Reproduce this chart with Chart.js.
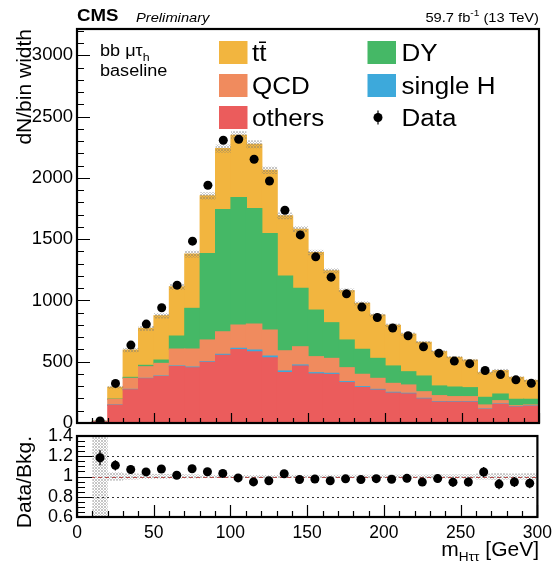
<!DOCTYPE html>
<html>
<head>
<meta charset="utf-8">
<script src="https://cdn.jsdelivr.net/npm/chart.js@4.4.1/dist/chart.umd.min.js"></script>
<style>
  html, body { margin: 0; padding: 0; background: #fff; }
  #wrap { position: relative; width: 558px; height: 568px; }
  #wrap canvas { position: absolute; left: 0; top: 0; }
</style>
</head>
<body>
<div id="wrap">
  <canvas id="main" width="558" height="568"></canvas>
  <canvas id="ratio" width="558" height="568"></canvas>
</div>
<script>
// m_Htautau histogram, 10 GeV bins from 0 to 300 GeV
const binCenters = [5, 15, 25, 35, 45, 55, 65, 75, 85, 95, 105, 115, 125, 135, 145,
                    155, 165, 175, 185, 195, 205, 215, 225, 235, 245, 255, 265, 275, 285, 295];
const binWidth = 10;

// background processes (events per bin), stacked bottom to top
const others  = [0, 10, 145, 271, 361, 379, 460, 451, 494, 552, 599, 581, 532, 412, 464,
                 400, 396, 329, 289, 268, 244, 237, 196, 170, 170, 170, 111, 152, 130, 136];
const singleH = [0, 0, 2, 3, 3, 4, 5, 5, 6, 8, 10, 14, 14, 12, 9,
                 10, 9, 8, 7, 6, 6, 5, 5, 4, 4, 4, 3, 3, 3, 3];
const qcd     = [0, 2.5, 46, 90, 95, 103, 138, 147, 177, 184, 190, 212, 212, 165, 149,
                 131, 122, 114, 101, 90, 73, 68, 54, 49, 41, 41, 33, 27, 8, 8];
const dy      = [0, 0.5, 2, 8, 11, 27, 106, 332, 706, 998, 1041, 943, 788, 609, 476,
                 380, 291, 226, 204, 163, 142, 108, 128, 79, 78, 73, 62, 54, 52, 46];
const ttbar   = [0, 0.5, 96, 223, 302, 362, 402, 443, 470, 497, 508, 524, 516, 492, 483,
                 470, 424, 402, 375, 353, 332, 307, 275, 280, 242, 224, 201, 191, 179, 154];
// total background uncertainty (events per bin)
const bkgUnc  = [0, 7, 12, 18, 20, 22, 25, 28, 30, 33, 33, 33, 30, 27, 25,
                 22, 20, 18, 17, 15, 14, 13, 12, 12, 11, 11, 12, 14, 11, 11];

// observed data
const data    = [null, 16, 323, 636, 807, 940, 1125, 1484, 1940, 2307, 2315, 2152, 1975, 1736, 1535,
                 1356, 1190, 1054, 946, 861, 775, 712, 622, 570, 505, 484, 428, 395, 352, 324];
// statistical uncertainty on the data/background ratio
const ratioErr = [0, 0.075, 0.05, 0.04, 0.035, 0.03, 0.03, 0.025, 0.02, 0.02, 0.02, 0.02, 0.02, 0.025, 0.025,
                  0.025, 0.03, 0.03, 0.03, 0.035, 0.035, 0.04, 0.04, 0.04, 0.045, 0.045, 0.05, 0.05, 0.05, 0.05];

// axis ticks
const xTicks = [0, 50, 100, 150, 200, 250, 300];
const yTicksMain = [0, 500, 1000, 1500, 2000, 2500, 3000];
const yTicksRatio = [0.6, 0.8, 1, 1.2, 1.4];

const COLORS = {
  ttbar: '#F2B53F',
  dy: '#45B866',
  qcd: '#F08B5E',
  singleH: '#3DA9DB',
  others: '#EB5C5C'
};
const FONT = "'Liberation Sans', Arial, Helvetica, sans-serif";
const STRETCH = 1.13;

Chart.defaults.font.family = FONT;
Chart.defaults.color = '#000';

const totals = binCenters.map((_, i) => others[i] + singleH[i] + qcd[i] + dy[i] + ttbar[i]);
const pts = arr => binCenters.map((x, i) => ({ x: x, y: arr[i] }));

// fine grey cross-hatch used for the uncertainty bands
function makeHatch() {
  const c = document.createElement('canvas');
  c.width = 3; c.height = 3;
  const g = c.getContext('2d');
  g.fillStyle = 'rgba(120,120,120,0.42)';
  g.fillRect(0, 0, 1, 1);
  g.fillRect(2, 0, 1, 1);
  g.fillRect(1, 1, 1, 1);
  g.fillRect(0, 2, 1, 1);
  g.fillRect(2, 2, 1, 1);
  return c;
}
const hatchCanvas = makeHatch();

function text(ctx, str, x, y, font, align, sx) {
  ctx.save();
  ctx.font = font;
  const w = ctx.measureText(str).width * sx;
  const x0 = align === 'right' ? x - w : (align === 'center' ? x - w / 2 : x);
  ctx.translate(x0, y);
  ctx.scale(sx, 1);
  ctx.textAlign = 'left';
  ctx.textBaseline = 'alphabetic';
  ctx.fillStyle = '#000';
  ctx.fillText(str, 0, 0);
  ctx.restore();
  return w;
}
function textWidth(ctx, str, font, sx) {
  ctx.save(); ctx.font = font;
  const w = ctx.measureText(str).width * sx;
  ctx.restore();
  return w;
}

// inward tick marks on the bottom and left edges, plus the frame
function drawFrameAndTicks(chart, cfg) {
  const ctx = chart.ctx;
  const a = chart.chartArea;
  const xs = chart.scales.x, ys = chart.scales.y;
  ctx.save();
  ctx.strokeStyle = '#000';
  ctx.lineWidth = 1.2;
  ctx.beginPath();
  const nx = Math.round((xs.max - xs.min) / cfg.xMinor);
  for (let k = 0; k <= nx; k++) {
    const v = xs.min + k * cfg.xMinor;
    const px = Math.round(xs.getPixelForValue(v)) + 0.5;
    const len = (k % cfg.xPer === 0) ? cfg.xMajorLen : cfg.xMinorLen;
    ctx.moveTo(px, a.bottom);
    ctx.lineTo(px, a.bottom - len);
  }
  const ny = Math.round((ys.max - ys.min) / cfg.yMinor);
  for (let k = 0; k <= ny; k++) {
    const v = cfg.yStart + k * cfg.yMinor;
    if (v > ys.max + 1e-9) break;
    const py = Math.round(ys.getPixelForValue(v)) + 0.5;
    const len = (k % cfg.yPer === 0) ? cfg.yMajorLen : cfg.yMinorLen;
    ctx.moveTo(a.left, py);
    ctx.lineTo(a.left + len, py);
  }
  ctx.stroke();
  ctx.lineWidth = 2.2;
  ctx.strokeRect(a.left, a.top, a.right - a.left, a.bottom - a.top);
  ctx.restore();
}

const mainPlugin = {
  id: 'mainDecor',
  beforeDatasetDraw(chart, args) {
    if (args.index !== 0) return;
    // background uncertainty band on top of the stack
    const ctx = chart.ctx;
    const xs = chart.scales.x, ys = chart.scales.y;
    ctx.save();
    ctx.fillStyle = ctx.createPattern(hatchCanvas, 'repeat');
    binCenters.forEach((c, i) => {
      if (totals[i] <= 0) return;
      const l = xs.getPixelForValue(c - binWidth / 2);
      const r = xs.getPixelForValue(c + binWidth / 2);
      const t = ys.getPixelForValue(totals[i] + bkgUnc[i]);
      const b = ys.getPixelForValue(Math.max(0, totals[i] - bkgUnc[i]));
      ctx.fillRect(l, t, r - l, b - t);
    });
    ctx.restore();
  },
  afterDraw(chart) {
    const ctx = chart.ctx;
    drawFrameAndTicks(chart, {
      xMinor: 10, xPer: 5, xMajorLen: 10, xMinorLen: 5,
      yStart: 0, yMinor: 100, yPer: 5, yMajorLen: 13, yMinorLen: 7
    });

    // header
    text(ctx, 'CMS', 77, 21, `bold 16.5px ${FONT}`, 'left', STRETCH);
    text(ctx, 'Preliminary', 136, 22, `italic 13px ${FONT}`, 'left', STRETCH);
    const f13 = `13px ${FONT}`, f9 = `9px ${FONT}`;
    const p1 = '59.7 fb', p2 = '-1', p3 = ' (13 TeV)';
    const w1 = textWidth(ctx, p1, f13, STRETCH), w2 = textWidth(ctx, p2, f9, STRETCH), w3 = textWidth(ctx, p3, f13, STRETCH);
    let x0 = 539 - (w1 + w2 + w3);
    text(ctx, p1, x0, 22, f13, 'left', STRETCH);
    text(ctx, p2, x0 + w1, 16, f9, 'left', STRETCH);
    text(ctx, p3, x0 + w1 + w2, 22, f13, 'left', STRETCH);

    // channel / selection label
    const f16 = `16px ${FONT}`;
    let wx = 100;
    wx += text(ctx, 'bb ', wx, 56, f16, 'left', STRETCH);
    wx += text(ctx, 'μτ', wx, 56, f16, 'left', STRETCH);
    text(ctx, 'h', wx, 61, `11px ${FONT}`, 'left', STRETCH);
    text(ctx, 'baseline', 100, 76, f16, 'left', STRETCH);

    // legend
    const ds = chart.data.datasets;
    const byLabel = l => ds.find(d => d.label === l);
    const fLeg = `23px ${FONT}`;
    const rows = [
      { top: 41, base: 61 },
      { top: 74, base: 93.5 },
      { top: 106, base: 126 }
    ];
    const cols = [
      { box: 219, txt: 252 },
      { box: 367.5, txt: 401.5 }
    ];
    const entries = [
      ['tt̄', 0, 0], ['DY', 1, 0],
      ['QCD', 0, 1], ['single H', 1, 1],
      ['others', 0, 2], ['Data', 1, 2]
    ];
    ctx.save();
    entries.forEach(([label, c, r]) => {
      const col = cols[c], row = rows[r];
      const d = byLabel(label);
      if (label === 'Data') {
        const cx = 378, cy = row.top + 11.5;
        ctx.strokeStyle = '#000';
        ctx.lineWidth = 1.2;
        ctx.beginPath();
        ctx.moveTo(cx, cy - 7); ctx.lineTo(cx, cy + 7);
        ctx.stroke();
        ctx.fillStyle = '#000';
        ctx.beginPath(); ctx.arc(cx, cy, 4.5, 0, Math.PI * 2); ctx.fill();
      } else {
        ctx.fillStyle = d.backgroundColor;
        ctx.fillRect(col.box, row.top, 28.5, 23);
      }
      text(ctx, label, col.txt, row.base, fLeg, 'left', STRETCH);
    });
    ctx.restore();
  }
};

const barDefaults = {
  barPercentage: 1.0,
  categoryPercentage: 1.0,
  borderWidth: 0,
  inflateAmount: 0.6,
  stack: 'bkg'
};

new Chart(document.getElementById('main'), {
  type: 'bar',
  data: {
    datasets: [
      { type: 'line', label: 'Data', data: pts(data), showLine: false, stack: 'data', order: -1,
        pointRadius: 4.5, pointBackgroundColor: '#000', pointBorderWidth: 0, pointHoverRadius: 4.5 },
      Object.assign({ label: 'others', data: pts(others), backgroundColor: COLORS.others }, barDefaults),
      Object.assign({ label: 'single H', data: pts(singleH), backgroundColor: COLORS.singleH }, barDefaults),
      Object.assign({ label: 'QCD', data: pts(qcd), backgroundColor: COLORS.qcd }, barDefaults),
      Object.assign({ label: 'DY', data: pts(dy), backgroundColor: COLORS.dy }, barDefaults),
      Object.assign({ label: 'tt̄', data: pts(ttbar), backgroundColor: COLORS.ttbar }, barDefaults)
    ]
  },
  options: {
    responsive: false,
    animation: false,
    devicePixelRatio: 1,
    layout: { padding: { left: 0, top: 29, right: 19, bottom: 145 } },
    plugins: { legend: { display: false }, tooltip: { enabled: false } },
    scales: {
      x: {
        type: 'linear', min: 0, max: 300, stacked: true, offset: false, display: false,
        afterBuildTicks(s) { s.ticks = xTicks.map(v => ({ value: v })); }
      },
      y: {
        min: 0, max: 3215, stacked: true,
        afterBuildTicks(s) { s.ticks = yTicksMain.map(v => ({ value: v })); },
        afterFit(s) { s.width = 77; },
        ticks: { padding: 4, font: { size: 18.5 }, color: '#000', autoSkip: false,
                 callback: v => String(v) },
        grid: { display: false, drawTicks: false },
        border: { display: false },
        title: { display: true, text: 'dN/bin width', align: 'end', font: { size: 21 }, padding: { top: 13, bottom: 0 } }
      }
    }
  },
  plugins: [mainPlugin]
});

const ratioPlugin = {
  id: 'ratioDecor',
  beforeDatasetsDraw(chart) {
    const ctx = chart.ctx;
    const a = chart.chartArea;
    const xs = chart.scales.x, ys = chart.scales.y;
    ctx.save();
    ctx.beginPath();
    ctx.rect(a.left, a.top, a.right - a.left, a.bottom - a.top);
    ctx.clip();
    // relative background uncertainty band
    ctx.fillStyle = ctx.createPattern(hatchCanvas, 'repeat');
    binCenters.forEach((c, i) => {
      if (totals[i] <= 0) return;
      const rel = bkgUnc[i] / totals[i];
      const l = xs.getPixelForValue(c - binWidth / 2);
      const r = xs.getPixelForValue(c + binWidth / 2);
      const t = ys.getPixelForValue(1 + rel);
      const b = ys.getPixelForValue(1 - rel);
      ctx.fillRect(l, t, r - l, b - t);
    });
    // reference lines
    ctx.lineWidth = 1;
    ctx.setLineDash([2, 3]);
    [0.8, 1.2].forEach(v => {
      const py = Math.round(ys.getPixelForValue(v)) + 0.5;
      ctx.strokeStyle = '#333';
      ctx.beginPath(); ctx.moveTo(a.left, py); ctx.lineTo(a.right, py); ctx.stroke();
    });
    ctx.setLineDash([4, 3]);
    ctx.strokeStyle = '#b5504e';
    const p1 = Math.round(ys.getPixelForValue(1)) + 0.5;
    ctx.beginPath(); ctx.moveTo(a.left, p1); ctx.lineTo(a.right, p1); ctx.stroke();
    ctx.setLineDash([]);
    // error bars on the ratio points
    ctx.strokeStyle = '#000';
    ctx.lineWidth = 1.3;
    chart.data.datasets[0].data.forEach((p, i) => {
      if (p.y == null) return;
      const px = xs.getPixelForValue(p.x);
      ctx.beginPath();
      ctx.moveTo(px, ys.getPixelForValue(p.y + ratioErr[i]));
      ctx.lineTo(px, ys.getPixelForValue(p.y - ratioErr[i]));
      ctx.stroke();
    });
    ctx.restore();
  },
  afterDraw(chart) {
    const ctx = chart.ctx;
    drawFrameAndTicks(chart, {
      xMinor: 10, xPer: 5, xMajorLen: 12, xMinorLen: 6,
      yStart: 0.6, yMinor: 0.05, yPer: 4, yMajorLen: 15, yMinorLen: 8
    });
    // x-axis title with subscript
    const fT = `20px ${FONT}`, fS = `13px ${FONT}`;
    const parts = [['m', fT, 0], ['Hττ', fS, 5], [' [GeV]', fT, 0]];
    const sx = 1.05;
    const total = parts.reduce((s, p) => s + textWidth(ctx, p[0], p[1], sx), 0);
    let x = 539 - total;
    parts.forEach(p => { x += text(ctx, p[0], x, 556 + p[2], p[1], 'left', sx); });
  }
};

new Chart(document.getElementById('ratio'), {
  type: 'line',
  data: {
    datasets: [{
      label: 'Data/Bkg.',
      data: binCenters.map((x, i) => ({ x: x, y: (data[i] != null && totals[i] > 0) ? data[i] / totals[i] : null })),
      showLine: false,
      pointRadius: 4.5, pointBackgroundColor: '#000', pointBorderWidth: 0, pointHoverRadius: 4.5
    }]
  },
  options: {
    responsive: false,
    animation: false,
    devicePixelRatio: 1,
    layout: { padding: { left: 0, top: 436, right: 19, bottom: 0 } },
    plugins: { legend: { display: false }, tooltip: { enabled: false } },
    scales: {
      x: {
        type: 'linear', min: 0, max: 300, offset: false,
        afterBuildTicks(s) { s.ticks = xTicks.map(v => ({ value: v })); },
        afterFit(s) { s.height = 51; },
        ticks: { padding: 6, font: { size: 17.5 }, color: '#000', maxRotation: 0, autoSkip: false },
        grid: { display: false, drawTicks: false },
        border: { display: false }
      },
      y: {
        min: 0.6, max: 1.4,
        afterBuildTicks(s) { s.ticks = yTicksRatio.map(v => ({ value: v })); },
        afterFit(s) { s.width = 77; },
        ticks: { padding: 4, font: { size: 18 }, color: '#000', autoSkip: false,
                 callback: v => String(Math.round(v * 10) / 10) },
        grid: { display: false, drawTicks: false },
        border: { display: false },
        title: { display: true, text: 'Data/Bkg.', align: 'end', font: { size: 21 }, padding: { top: 13, bottom: 0 } }
      }
    }
  },
  plugins: [ratioPlugin]
});
</script>
</body>
</html>
